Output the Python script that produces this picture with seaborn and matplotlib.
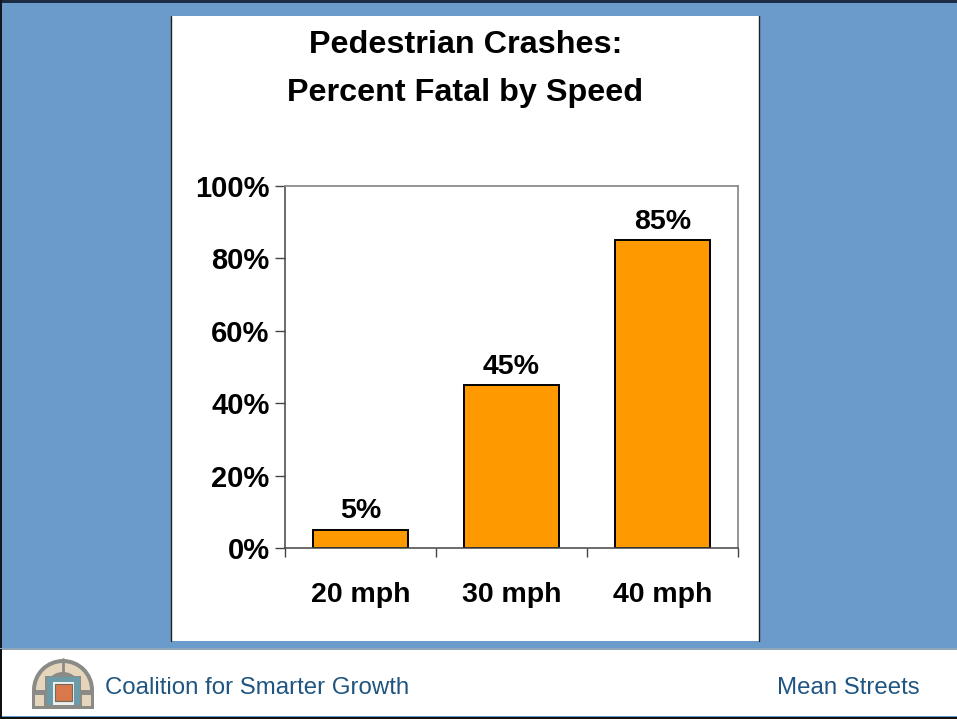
import matplotlib
matplotlib.use("Agg")
import matplotlib.pyplot as plt
from matplotlib.patches import Rectangle, Wedge
from matplotlib.ticker import FixedLocator, FixedFormatter
import seaborn as sns
import pandas as pd

speeds = ["20 mph", "30 mph", "40 mph"]
percent_fatal = [5, 45, 85]
y_ticks = [0, 20, 40, 60, 80, 100]
title_lines = ["Pedestrian Crashes:", "Percent Fatal by Speed"]
footer_left = "Coalition for Smarter Growth"
footer_right = "Mean Streets"

W, H = 957, 719
BLUE = "#6a9bcb"
ORANGE = "#ff9900"
NAVY = "#1f5580"

sns.set_theme(style="white")
plt.rcParams["font.family"] = ["Liberation Sans", "DejaVu Sans"]

fig = plt.figure(figsize=(W / 100, H / 100), dpi=100, facecolor=BLUE)

# page furniture in pixel coordinates
bg = fig.add_axes([0, 0, 1, 1], zorder=0)
bg.set_xlim(0, W)
bg.set_ylim(H, 0)
bg.axis("off")
bg.add_patch(Rectangle((0, 0), W, 3, fc="#1c2c44", ec="none"))
bg.add_patch(Rectangle((0, 0), 2, H, fc="#101820", ec="none"))
bg.add_patch(Rectangle((0, 649), W, 67, fc="white", ec="none"))
bg.add_patch(Rectangle((0, 648), W, 1.5, fc="#8fa6b8", ec="none"))
bg.add_patch(Rectangle((0, 716.5), W, 2.5, fc="#101010", ec="none"))
bg.add_patch(Rectangle((0, 649), 2, 68, fc="#101010", ec="none"))
bg.add_patch(Rectangle((171, 16), 588, 625, fc="white", ec="none"))
bg.plot([170.5, 170.5], [16, 641], color="#222222", lw=1)
bg.plot([759, 759], [16, 641], color="#222222", lw=1)

# logo (arched window)
gray = "#8a8a86"
cream = "#e6d5bd"
teal = "#6b9aa8"
lead = "#f0f0ea"
bg.add_patch(Wedge((63, 690), 31, 180, 360, fc=gray, ec="none"))
bg.add_patch(Rectangle((32, 689), 62, 20, fc=gray, ec="none"))
bg.add_patch(Wedge((63, 690), 27, 180, 360, fc=cream, ec="none"))
bg.add_patch(Wedge((63, 690), 18, 180, 360, fc=gray, ec="none"))
bg.add_patch(Rectangle((45, 676), 36, 31, fc=gray, ec="none"))
bg.add_patch(Rectangle((35, 695), 9, 11, fc=cream, ec="none"))
bg.add_patch(Rectangle((82, 695), 9, 11, fc=cream, ec="none"))
bg.add_patch(Rectangle((36, 690), 8, 4, fc=gray, ec="none"))
bg.add_patch(Rectangle((82, 690), 8, 4, fc=gray, ec="none"))
bg.add_patch(Rectangle((47, 677), 33, 28, fc=teal, ec="none"))
bg.add_patch(Rectangle((53, 682), 21, 23, fc=lead, ec="none"))
bg.add_patch(Rectangle((55, 684), 17, 17, fc="#d9784a", ec="#6a6a66", lw=0.8))
bg.plot([63, 63], [659, 676], color=gray, lw=2)

bg.text(105, 687.5, footer_left, color=NAVY, fontsize=17.3, va="center", ha="left")
bg.text(920, 687.5, footer_right, color=NAVY, fontsize=17.3, va="center", ha="right")

# titles
bg.text(466, 45, title_lines[0], fontsize=23.3, fontweight="bold", color="black", ha="center", va="center")
bg.text(465, 92.5, title_lines[1], fontsize=23.3, fontweight="bold", color="black", ha="center", va="center")

# chart
ax = fig.add_axes([285 / W, 1 - 548 / H, 453 / W, 362 / H], zorder=2, facecolor="white")
df = pd.DataFrame({"speed": speeds, "pct": percent_fatal})
sns.barplot(data=df, x="speed", y="pct", color=ORANGE, saturation=1, width=0.63,
            edgecolor="black", linewidth=1.4, ax=ax)
ax.set_xlim(-0.5, len(speeds) - 0.5)
ax.set_ylim(0, 100)
ax.set_xlabel("")
ax.set_ylabel("")

ax.yaxis.set_major_locator(FixedLocator(y_ticks))
ax.yaxis.set_major_formatter(FixedFormatter([f"{v}%" for v in y_ticks]))
ax.tick_params(axis="y", length=7, width=1, color="#444444", labelsize=21, pad=4, left=True)
for lab in ax.get_yticklabels():
    lab.set_fontweight("bold")
    lab.set_color("black")

# category boundaries carry the ticks, centres carry the labels
ax.set_xticks([i - 0.5 for i in range(len(speeds) + 1)])
ax.set_xticklabels([])
ax.tick_params(axis="x", which="major", length=6.5, width=1, color="#444444", bottom=True)
ax.set_xticks(range(len(speeds)), minor=True)
ax.set_xticklabels(speeds, minor=True, fontsize=20.5, fontweight="bold", color="black")
ax.tick_params(axis="x", which="minor", length=0, pad=24.5)

for side in ("left", "bottom"):
    ax.spines[side].set_color("#444444")
    ax.spines[side].set_linewidth(1.1)
for side in ("top", "right"):
    ax.spines[side].set_color("#8c8c8c")
    ax.spines[side].set_linewidth(1.3)

for container in ax.containers:
    ax.bar_label(container, labels=[f"{v}%" for v in percent_fatal], fontsize=20.5,
                 fontweight="bold", color="black", padding=4)

fig.savefig("out.png", dpi=100, facecolor=BLUE)
